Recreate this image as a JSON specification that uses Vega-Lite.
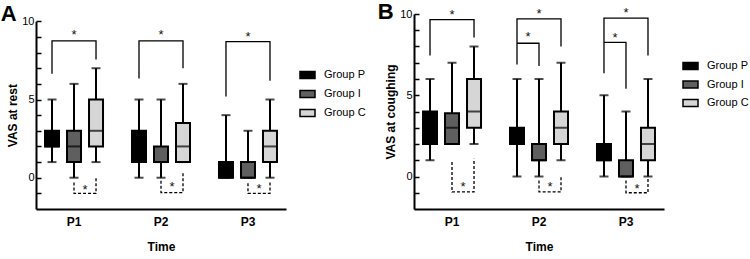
{
  "$schema": "https://vega.github.io/schema/vega-lite/v6.json",
  "padding": {"left": 0, "top": 0, "right": 0, "bottom": 0},
  "background": "white",
  "config": {
    "font": "Liberation Sans",
    "view": {"stroke": null},
    "axis": {"domainColor": "black", "domainWidth": 2, "tickColor": "black", "tickWidth": 1.5, "labelColor": "black", "titleColor": "black", "grid": false},
    "legend": {"labelColor": "black"}
  },
  "bounds": "flush",
  "spacing": 128,
  "datasets": {
    "stats": [
      {"panel": "A", "time": "P1", "group": "P", "min": 1, "q1": 2, "median": 2, "q3": 3, "max": 5},
      {"panel": "A", "time": "P1", "group": "I", "min": 0, "q1": 1, "median": 2, "q3": 3, "max": 6},
      {"panel": "A", "time": "P1", "group": "C", "min": 1, "q1": 2, "median": 3, "q3": 5, "max": 7},
      {"panel": "A", "time": "P2", "group": "P", "min": 0, "q1": 1, "median": 2, "q3": 3, "max": 5},
      {"panel": "A", "time": "P2", "group": "I", "min": 0, "q1": 1, "median": 1, "q3": 2, "max": 5},
      {"panel": "A", "time": "P2", "group": "C", "min": 1, "q1": 1, "median": 2, "q3": 3.5, "max": 6},
      {"panel": "A", "time": "P3", "group": "P", "min": 0, "q1": 0, "median": 0, "q3": 1, "max": 4},
      {"panel": "A", "time": "P3", "group": "I", "min": 0, "q1": 0, "median": 0, "q3": 1, "max": 3},
      {"panel": "A", "time": "P3", "group": "C", "min": 0, "q1": 1, "median": 2, "q3": 3, "max": 5},
      {"panel": "B", "time": "P1", "group": "P", "min": 1, "q1": 2, "median": 3, "q3": 4, "max": 6},
      {"panel": "B", "time": "P1", "group": "I", "min": 2, "q1": 2, "median": 3, "q3": 3.9, "max": 7},
      {"panel": "B", "time": "P1", "group": "C", "min": 2, "q1": 3, "median": 4, "q3": 6, "max": 8},
      {"panel": "B", "time": "P2", "group": "P", "min": 0, "q1": 2, "median": 2, "q3": 3, "max": 6},
      {"panel": "B", "time": "P2", "group": "I", "min": 0, "q1": 1, "median": 1, "q3": 2, "max": 6},
      {"panel": "B", "time": "P2", "group": "C", "min": 1, "q1": 2, "median": 3, "q3": 4, "max": 7},
      {"panel": "B", "time": "P3", "group": "P", "min": 0, "q1": 1, "median": 1, "q3": 2, "max": 5},
      {"panel": "B", "time": "P3", "group": "I", "min": 0, "q1": 0, "median": 0, "q3": 1, "max": 4},
      {"panel": "B", "time": "P3", "group": "C", "min": 0, "q1": 1, "median": 2, "q3": 3, "max": 6}
    ],
    "brackets": [
      {"panel": "A", "time": "P1", "id": "A1", "cmp": "vsP", "group": "P", "value": 6.65, "ord": 1},
      {"panel": "A", "time": "P1", "id": "A1", "cmp": "vsP", "group": "P", "value": 8.75, "ord": 2},
      {"panel": "A", "time": "P1", "id": "A1", "cmp": "vsP", "group": "C", "value": 8.75, "ord": 3},
      {"panel": "A", "time": "P1", "id": "A1", "cmp": "vsP", "group": "C", "value": 7.55, "ord": 4},
      {"panel": "A", "time": "P2", "id": "A2", "cmp": "vsP", "group": "P", "value": 6.35, "ord": 1},
      {"panel": "A", "time": "P2", "id": "A2", "cmp": "vsP", "group": "P", "value": 8.75, "ord": 2},
      {"panel": "A", "time": "P2", "id": "A2", "cmp": "vsP", "group": "C", "value": 8.75, "ord": 3},
      {"panel": "A", "time": "P2", "id": "A2", "cmp": "vsP", "group": "C", "value": 7.0, "ord": 4},
      {"panel": "A", "time": "P3", "id": "A3", "cmp": "vsP", "group": "P", "value": 5.2, "ord": 1},
      {"panel": "A", "time": "P3", "id": "A3", "cmp": "vsP", "group": "P", "value": 8.7, "ord": 2},
      {"panel": "A", "time": "P3", "id": "A3", "cmp": "vsP", "group": "C", "value": 8.7, "ord": 3},
      {"panel": "A", "time": "P3", "id": "A3", "cmp": "vsP", "group": "C", "value": 6.2, "ord": 4},
      {"panel": "A", "time": "P1", "id": "A4", "cmp": "IvsC", "group": "I", "value": -0.3, "ord": 1},
      {"panel": "A", "time": "P1", "id": "A4", "cmp": "IvsC", "group": "I", "value": -1.0, "ord": 2},
      {"panel": "A", "time": "P1", "id": "A4", "cmp": "IvsC", "group": "C", "value": -1.0, "ord": 3},
      {"panel": "A", "time": "P1", "id": "A4", "cmp": "IvsC", "group": "C", "value": 0.0, "ord": 4},
      {"panel": "A", "time": "P2", "id": "A5", "cmp": "IvsC", "group": "I", "value": -0.2, "ord": 1},
      {"panel": "A", "time": "P2", "id": "A5", "cmp": "IvsC", "group": "I", "value": -0.95, "ord": 2},
      {"panel": "A", "time": "P2", "id": "A5", "cmp": "IvsC", "group": "C", "value": -0.95, "ord": 3},
      {"panel": "A", "time": "P2", "id": "A5", "cmp": "IvsC", "group": "C", "value": 0.35, "ord": 4},
      {"panel": "A", "time": "P3", "id": "A6", "cmp": "IvsC", "group": "I", "value": -0.35, "ord": 1},
      {"panel": "A", "time": "P3", "id": "A6", "cmp": "IvsC", "group": "I", "value": -1.0, "ord": 2},
      {"panel": "A", "time": "P3", "id": "A6", "cmp": "IvsC", "group": "C", "value": -1.0, "ord": 3},
      {"panel": "A", "time": "P3", "id": "A6", "cmp": "IvsC", "group": "C", "value": -0.25, "ord": 4},
      {"panel": "B", "time": "P1", "id": "B1", "cmp": "vsP", "group": "P", "value": 7.45, "ord": 1},
      {"panel": "B", "time": "P1", "id": "B1", "cmp": "vsP", "group": "P", "value": 9.65, "ord": 2},
      {"panel": "B", "time": "P1", "id": "B1", "cmp": "vsP", "group": "C", "value": 9.65, "ord": 3},
      {"panel": "B", "time": "P1", "id": "B1", "cmp": "vsP", "group": "C", "value": 8.55, "ord": 4},
      {"panel": "B", "time": "P2", "id": "B2", "cmp": "vsP", "group": "P", "value": 6.9, "ord": 1},
      {"panel": "B", "time": "P2", "id": "B2", "cmp": "vsP", "group": "P", "value": 9.7, "ord": 2},
      {"panel": "B", "time": "P2", "id": "B2", "cmp": "vsP", "group": "C", "value": 9.7, "ord": 3},
      {"panel": "B", "time": "P2", "id": "B2", "cmp": "vsP", "group": "C", "value": 8.0, "ord": 4},
      {"panel": "B", "time": "P2", "id": "B3", "cmp": "vsP", "group": "P", "value": 8.2, "ord": 1},
      {"panel": "B", "time": "P2", "id": "B3", "cmp": "vsP", "group": "I", "value": 8.2, "ord": 2},
      {"panel": "B", "time": "P2", "id": "B3", "cmp": "vsP", "group": "I", "value": 6.8, "ord": 3},
      {"panel": "B", "time": "P3", "id": "B4", "cmp": "vsP", "group": "P", "value": 6.35, "ord": 1},
      {"panel": "B", "time": "P3", "id": "B4", "cmp": "vsP", "group": "P", "value": 9.75, "ord": 2},
      {"panel": "B", "time": "P3", "id": "B4", "cmp": "vsP", "group": "C", "value": 9.75, "ord": 3},
      {"panel": "B", "time": "P3", "id": "B4", "cmp": "vsP", "group": "C", "value": 7.45, "ord": 4},
      {"panel": "B", "time": "P3", "id": "B5", "cmp": "vsP", "group": "P", "value": 8.25, "ord": 1},
      {"panel": "B", "time": "P3", "id": "B5", "cmp": "vsP", "group": "I", "value": 8.25, "ord": 2},
      {"panel": "B", "time": "P3", "id": "B5", "cmp": "vsP", "group": "I", "value": 5.4, "ord": 3},
      {"panel": "B", "time": "P1", "id": "B6", "cmp": "IvsC", "group": "I", "value": 0.9, "ord": 1},
      {"panel": "B", "time": "P1", "id": "B6", "cmp": "IvsC", "group": "I", "value": -0.95, "ord": 2},
      {"panel": "B", "time": "P1", "id": "B6", "cmp": "IvsC", "group": "C", "value": -0.95, "ord": 3},
      {"panel": "B", "time": "P1", "id": "B6", "cmp": "IvsC", "group": "C", "value": 1.1, "ord": 4},
      {"panel": "B", "time": "P2", "id": "B7", "cmp": "IvsC", "group": "I", "value": -0.25, "ord": 1},
      {"panel": "B", "time": "P2", "id": "B7", "cmp": "IvsC", "group": "I", "value": -0.95, "ord": 2},
      {"panel": "B", "time": "P2", "id": "B7", "cmp": "IvsC", "group": "C", "value": -0.95, "ord": 3},
      {"panel": "B", "time": "P2", "id": "B7", "cmp": "IvsC", "group": "C", "value": -0.05, "ord": 4},
      {"panel": "B", "time": "P3", "id": "B8", "cmp": "IvsC", "group": "I", "value": -0.25, "ord": 1},
      {"panel": "B", "time": "P3", "id": "B8", "cmp": "IvsC", "group": "I", "value": -1.0, "ord": 2},
      {"panel": "B", "time": "P3", "id": "B8", "cmp": "IvsC", "group": "C", "value": -1.0, "ord": 3},
      {"panel": "B", "time": "P3", "id": "B8", "cmp": "IvsC", "group": "C", "value": -0.05, "ord": 4}
    ],
    "stars": [
      {"panel": "A", "time": "P1", "group": "I", "value": 9.3},
      {"panel": "A", "time": "P2", "group": "I", "value": 9.3},
      {"panel": "A", "time": "P3", "group": "I", "value": 9.2},
      {"panel": "A", "time": "P1", "group": "I-C", "value": -0.57},
      {"panel": "A", "time": "P2", "group": "I-C", "value": -0.4},
      {"panel": "A", "time": "P3", "group": "I-C", "value": -0.5},
      {"panel": "B", "time": "P1", "group": "I", "value": 10.1},
      {"panel": "B", "time": "P2", "group": "I", "value": 10.2},
      {"panel": "B", "time": "P3", "group": "I", "value": 10.25},
      {"panel": "B", "time": "P2", "group": "P-I", "value": 8.75},
      {"panel": "B", "time": "P3", "group": "P-I", "value": 8.7},
      {"panel": "B", "time": "P1", "group": "I-C", "value": -0.45},
      {"panel": "B", "time": "P2", "group": "I-C", "value": -0.45},
      {"panel": "B", "time": "P3", "group": "I-C", "value": -0.6}
    ]
  },
  "hconcat": [
    {
      "width": 250,
      "height": 195,
      "title": {"text": "A", "anchor": "start", "frame": "bounds", "fontSize": 22, "fontWeight": "bold", "offset": -29, "dx": -6, "baseline": "alphabetic", "color": "black"},
      "encoding": {
        "x": {"field": "time", "type": "nominal", "scale": {"type": "band", "paddingInner": 0.126, "paddingOuter": 0},
              "axis": {"title": "Time", "ticks": false, "labelFontWeight": "bold", "labelFontSize": 12, "labelAngle": 0, "labelPadding": 7, "titleFontSize": 12, "titleFontWeight": "bold", "titlePadding": 14}},
        "xOffset": {"field": "group", "type": "nominal", "scale": {"type": "band", "domain": ["P", "P-I", "I", "I-C", "C"], "paddingInner": 0, "paddingOuter": 0.955}}
      },
      "resolve": {"axis": {"y": "independent"}},
      "layer": [
        {
          "data": {"name": "stats"},
          "transform": [{"filter": "datum.panel == 'A'"}],
          "mark": {"type": "rule", "strokeWidth": 2, "color": "black"},
          "encoding": {
            "y": {"field": "min", "type": "quantitative", "scale": {"domain": [-2, 10], "range": [195, 7.3], "nice": false, "zero": false},
                  "axis": {"orient": "left", "title": "VAS at rest", "values": [0, 5, 10], "ticks": false, "labelFontSize": 11, "titleFontSize": 12, "titleFontWeight": "bold", "labelPadding": 2, "titlePadding": 2}},
            "y2": {"field": "max"}
          }
        },
        {
          "data": {"name": "stats"},
          "transform": [{"filter": "datum.panel == 'A'"}],
          "mark": {"type": "tick", "size": 9, "thickness": 2, "color": "black"},
          "encoding": {"y": {"field": "min", "type": "quantitative",
                             "axis": {"orient": "left", "offset": 0, "title": null, "values": [-1, 0, 1, 2, 3, 4, 5, 6, 7, 8, 9, 10], "labels": false, "domain": false, "tickSize": -5}}}
        },
        {
          "data": {"name": "stats"},
          "transform": [{"filter": "datum.panel == 'A'"}],
          "mark": {"type": "tick", "size": 9, "thickness": 2, "color": "black"},
          "encoding": {"y": {"field": "max", "type": "quantitative", "axis": null}}
        },
        {
          "data": {"name": "stats"},
          "transform": [{"filter": "datum.panel == 'A'"}],
          "mark": {"type": "bar", "width": 14, "stroke": "black", "strokeWidth": 2},
          "encoding": {
            "y": {"field": "q3", "type": "quantitative", "axis": null},
            "y2": {"field": "q1"},
            "fill": {"field": "group", "type": "nominal", "scale": {"domain": ["P", "I", "C"], "range": ["#000000", "#5f5f5f", "#d6d6d6"]},
                     "legend": {"orient": "none", "legendX": 263, "legendY": 52.5, "title": null, "labelExpr": "'Group ' + datum.label",
                                "symbolType": "M-1,-0.47H1V0.47H-1Z", "symbolSize": 225, "symbolStrokeColor": "black", "symbolStrokeWidth": 1.5,
                                "labelFontSize": 11, "labelOffset": 8, "rowPadding": 3, "padding": 0}}
          }
        },
        {
          "data": {"name": "stats"},
          "transform": [{"filter": "datum.panel == 'A'"}],
          "mark": {"type": "tick", "size": 14, "thickness": 2, "color": "black"},
          "encoding": {"y": {"field": "median", "type": "quantitative", "axis": null}}
        },
        {
          "data": {"name": "brackets"},
          "transform": [{"filter": "datum.panel == 'A' && datum.cmp == 'vsP'"}],
          "mark": {"type": "line", "color": "black", "strokeWidth": 1.3},
          "encoding": {"y": {"field": "value", "type": "quantitative", "axis": null}, "detail": {"field": "id"}, "order": {"field": "ord"}}
        },
        {
          "data": {"name": "brackets"},
          "transform": [{"filter": "datum.panel == 'A' && datum.cmp == 'IvsC'"}],
          "mark": {"type": "line", "color": "black", "strokeWidth": 1.3, "strokeDash": [3, 2]},
          "encoding": {"y": {"field": "value", "type": "quantitative", "axis": null}, "detail": {"field": "id"}, "order": {"field": "ord"}}
        },
        {
          "data": {"name": "stars"},
          "transform": [{"filter": "datum.panel == 'A'"}],
          "mark": {"type": "text", "text": "*", "fontSize": 13, "color": "#111", "baseline": "middle", "dy": 3},
          "encoding": {"y": {"field": "value", "type": "quantitative", "axis": null}}
        }
      ]
    },
    {
      "width": 250,
      "height": 195,
      "title": {"text": "B", "anchor": "start", "frame": "bounds", "fontSize": 22, "fontWeight": "bold", "offset": -34, "dx": -7, "baseline": "alphabetic", "color": "black"},
      "encoding": {
        "x": {"field": "time", "type": "nominal", "scale": {"type": "band", "paddingInner": 0.126, "paddingOuter": 0},
              "axis": {"title": "Time", "ticks": false, "labelFontWeight": "bold", "labelFontSize": 12, "labelAngle": 0, "labelPadding": 7, "titleFontSize": 12, "titleFontWeight": "bold", "titlePadding": 14}},
        "xOffset": {"field": "group", "type": "nominal", "scale": {"type": "band", "domain": ["P", "P-I", "I", "I-C", "C"], "paddingInner": 0, "paddingOuter": 0.955}}
      },
      "resolve": {"axis": {"y": "independent"}},
      "layer": [
        {
          "data": {"name": "stats"},
          "transform": [{"filter": "datum.panel == 'B'"}],
          "mark": {"type": "rule", "strokeWidth": 2, "color": "black"},
          "encoding": {
            "y": {"field": "min", "type": "quantitative", "scale": {"domain": [-2, 10], "nice": false, "zero": false},
                  "axis": {"orient": "left", "title": "VAS at coughing", "values": [0, 5, 10], "ticks": false, "labelFontSize": 11, "titleFontSize": 12, "titleFontWeight": "bold", "labelPadding": 2, "titlePadding": 2}},
            "y2": {"field": "max"}
          }
        },
        {
          "data": {"name": "stats"},
          "transform": [{"filter": "datum.panel == 'B'"}],
          "mark": {"type": "tick", "size": 9, "thickness": 2, "color": "black"},
          "encoding": {"y": {"field": "min", "type": "quantitative",
                             "axis": {"orient": "left", "offset": 0, "title": null, "values": [-1, 0, 1, 2, 3, 4, 5, 6, 7, 8, 9, 10], "labels": false, "domain": false, "tickSize": -5}}}
        },
        {
          "data": {"name": "stats"},
          "transform": [{"filter": "datum.panel == 'B'"}],
          "mark": {"type": "tick", "size": 9, "thickness": 2, "color": "black"},
          "encoding": {"y": {"field": "max", "type": "quantitative", "axis": null}}
        },
        {
          "data": {"name": "stats"},
          "transform": [{"filter": "datum.panel == 'B'"}],
          "mark": {"type": "bar", "width": 14, "stroke": "black", "strokeWidth": 2},
          "encoding": {
            "y": {"field": "q3", "type": "quantitative", "axis": null},
            "y2": {"field": "q1"},
            "fill": {"field": "group", "type": "nominal", "scale": {"domain": ["P", "I", "C"], "range": ["#000000", "#5f5f5f", "#d6d6d6"]},
                     "legend": {"orient": "none", "legendX": 268, "legendY": 43.5, "title": null, "labelExpr": "'Group ' + datum.label",
                                "symbolType": "M-1,-0.47H1V0.47H-1Z", "symbolSize": 225, "symbolStrokeColor": "black", "symbolStrokeWidth": 1.5,
                                "labelFontSize": 11, "labelOffset": 8, "rowPadding": 2.5, "padding": 0}}
          }
        },
        {
          "data": {"name": "stats"},
          "transform": [{"filter": "datum.panel == 'B'"}],
          "mark": {"type": "tick", "size": 14, "thickness": 2, "color": "black"},
          "encoding": {"y": {"field": "median", "type": "quantitative", "axis": null}}
        },
        {
          "data": {"name": "brackets"},
          "transform": [{"filter": "datum.panel == 'B' && datum.cmp == 'vsP'"}],
          "mark": {"type": "line", "color": "black", "strokeWidth": 1.3},
          "encoding": {"y": {"field": "value", "type": "quantitative", "axis": null}, "detail": {"field": "id"}, "order": {"field": "ord"}}
        },
        {
          "data": {"name": "brackets"},
          "transform": [{"filter": "datum.panel == 'B' && datum.cmp == 'IvsC'"}],
          "mark": {"type": "line", "color": "black", "strokeWidth": 1.3, "strokeDash": [3, 2]},
          "encoding": {"y": {"field": "value", "type": "quantitative", "axis": null}, "detail": {"field": "id"}, "order": {"field": "ord"}}
        },
        {
          "data": {"name": "stars"},
          "transform": [{"filter": "datum.panel == 'B'"}],
          "mark": {"type": "text", "text": "*", "fontSize": 13, "color": "#111", "baseline": "middle", "dy": 3},
          "encoding": {"y": {"field": "value", "type": "quantitative", "axis": null}}
        }
      ]
    }
  ],
  "resolve": {"scale": {"fill": "independent", "y": "independent", "x": "independent", "xOffset": "independent"}, "legend": {"fill": "independent"}}
}
